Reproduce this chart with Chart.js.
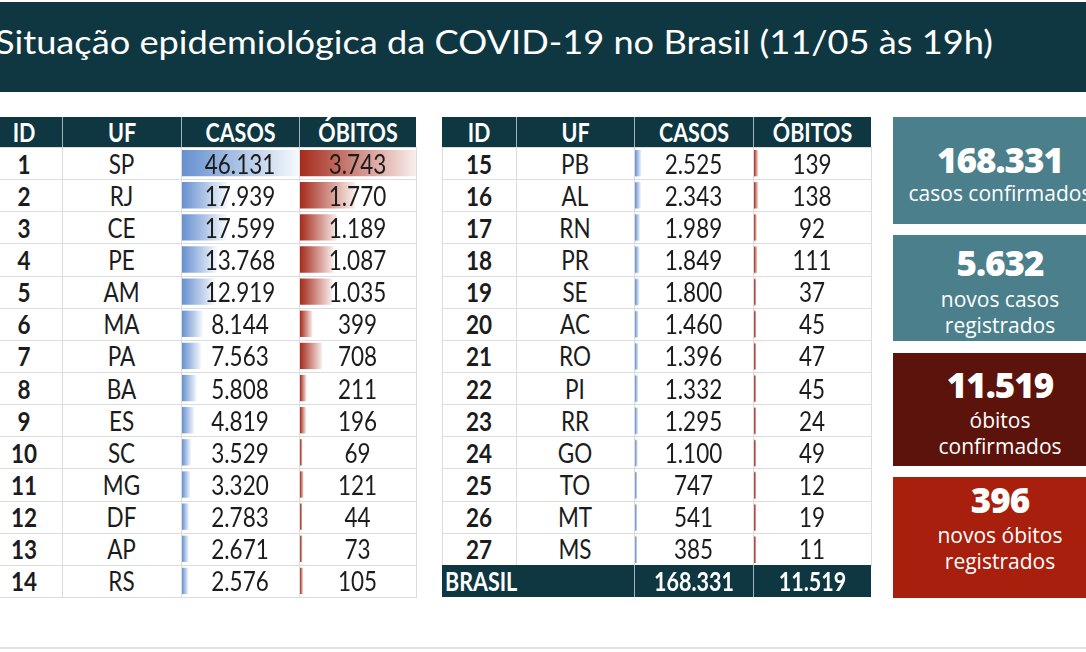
<!DOCTYPE html>
<html>
<head>
<meta charset="utf-8">
<title>Situação epidemiológica da COVID-19 no Brasil</title>
<script src="https://cdn.jsdelivr.net/npm/chart.js@4.4.0/dist/chart.umd.min.js"></script>
<style>
  body { margin:0; width:1086px; height:652px; overflow:hidden; background:#fff; position:relative; font-family:Lato, sans-serif; }
  .abs { position:absolute; box-sizing:border-box; }
  .cell { display:flex; align-items:center; justify-content:center; color:#1c1c1c; font-size:22.5px; }
  .cell span { display:inline-block; transform:scaleY(1.2); }
  .head { background:#0f3741; color:#fff; font-weight:bold; font-size:21.5px; }
  .bold { font-weight:bold; }
  .box { color:#fff; font-family:"Open Sans", sans-serif; text-align:center; }
  #title { left:0; top:2px; width:1086px; height:90px; background:#0f3741; }
  #titleText { position:absolute; left:-5px; top:19px; color:#fff; font-size:33px; white-space:nowrap; transform-origin:0 0; }
</style>
</head>
<body>
<div id="title" class="abs"><span id="titleText">Situação epidemiológica da COVID-19 no Brasil (11/05 às 19h)</span></div>
<div class="abs" style="left:0;top:647px;width:1086px;height:2px;background:#e2e2e2"></div>
<script>
// data
const headers = ["ID", "UF", "CASOS", "ÓBITOS"];
const ids1 = [1, 2, 3, 4, 5, 6, 7, 8, 9, 10, 11, 12, 13, 14];
const uf1 = ["SP","RJ","CE","PE","AM","MA","PA","BA","ES","SC","MG","DF","AP","RS"];
const casos1 = [46131, 17939, 17599, 13768, 12919, 8144, 7563, 5808, 4819, 3529, 3320, 2783, 2671, 2576];
const obitos1 = [3743, 1770, 1189, 1087, 1035, 399, 708, 211, 196, 69, 121, 44, 73, 105];
const ids2 = [15, 16, 17, 18, 19, 20, 21, 22, 23, 24, 25, 26, 27];
const uf2 = ["PB","AL","RN","PR","SE","AC","RO","PI","RR","GO","TO","MT","MS"];
const casos2 = [2525, 2343, 1989, 1849, 1800, 1460, 1396, 1332, 1295, 1100, 747, 541, 385];
const obitos2 = [139, 138, 92, 111, 37, 45, 47, 45, 24, 49, 12, 19, 11];
const totalLabel = "BRASIL";
const totalCasos = 168331;
const totalObitos = 11519;
const summaryValues = [168331, 5632, 11519, 396];
const summaryLabels = [["casos confirmados"], ["novos casos", "registrados"], ["óbitos", "confirmados"], ["novos óbitos", "registrados"]];

const fmt = v => v.toLocaleString("de-DE");

// layout
const headTop = 117, headH = 30, rowH = 32.14;
const bodyTop = headTop + headH;
const tables = [
  { cols: [-14, 62, 181, 299, 416], ids: ids1, uf: uf1, casos: casos1, obitos: obitos1, total: false },
  { cols: [442, 516, 634, 753, 871], ids: ids2, uf: uf2, casos: casos2, obitos: obitos2, total: true }
];
const maxCasos = Math.max(...casos1, ...casos2);
const maxObitos = Math.max(...obitos1, ...obitos2);

function div(cls, x, y, w, h, style, html) {
  const d = document.createElement("div");
  d.className = "abs " + cls;
  d.style.cssText = `left:${x}px;top:${y}px;width:${w}px;height:${h}px;` + (style || "");
  if (html !== undefined) d.innerHTML = "<span>" + html + "</span>";
  document.body.appendChild(d);
  return d;
}

function grad(color, end) {
  return ctx => {
    if (ctx.type !== "data") return color;
    const c = ctx.chart;
    if (!c.chartArea) return color;
    const x0 = c.scales.x.getPixelForValue(0);
    const x1 = Math.max(c.scales.x.getPixelForValue(ctx.raw), x0 + 3);
    const g = c.ctx.createLinearGradient(x0, 0, x1, 0);
    g.addColorStop(0, color);
    g.addColorStop(1, end);
    return g;
  };
}

function barChart(x, y, w, h, labels, values, max, color, end) {
  const box = div("", x, y, w, h, "z-index:2");
  const cv = document.createElement("canvas");
  box.appendChild(cv);
  new Chart(cv, {
    type: "bar",
    data: {
      labels: labels,
      datasets: [{
        data: values,
        backgroundColor: grad(color, end),
        borderWidth: 0,
        barPercentage: 0.82,
        categoryPercentage: 1,
        minBarLength: 2
      }]
    },
    options: {
      indexAxis: "y",
      responsive: true,
      maintainAspectRatio: false,
      animation: false,
      events: [],
      layout: { padding: 0 },
      plugins: { legend: { display: false }, tooltip: { enabled: false } },
      scales: {
        x: { display: false, min: 0, max: max },
        y: { display: false }
      }
    }
  });
}

tables.forEach(t => {
  const c = t.cols;
  const n = t.ids.length;
  // header
  for (let j = 0; j < 4; j++) {
    div("cell head", c[j], headTop, c[j + 1] - c[j], headH,
      j > 0 ? "border-left:1px solid #9fb3b8;" : "", headers[j]);
  }
  // body grid
  for (let i = 0; i < n; i++) {
    const y = bodyTop + i * rowH;
    for (let j = 0; j < 4; j++) {
      div("", c[j], y, c[j + 1] - c[j] + 1, rowH + 1, "border:1px solid #dcdcdc;background:#fff;z-index:1");
    }
  }
  // data bars
  barChart(c[2] + 1, bodyTop, c[3] - c[2] - 1, n * rowH, t.uf, t.casos, maxCasos, "#6690cf", "#f6f9fd");
  barChart(c[3] + 1, bodyTop, c[4] - c[3] - 1, n * rowH, t.uf, t.obitos, maxObitos, "#a52b1c", "#f9eeec");
  // text
  for (let i = 0; i < n; i++) {
    const y = bodyTop + i * rowH;
    div("cell bold", c[0], y, c[1] - c[0], rowH, "z-index:3", t.ids[i]);
    div("cell", c[1], y, c[2] - c[1], rowH, "z-index:3", t.uf[i]);
    div("cell", c[2], y, c[3] - c[2], rowH, "z-index:3", fmt(t.casos[i]));
    div("cell", c[3], y, c[4] - c[3], rowH, "z-index:3", fmt(t.obitos[i]));
  }
  if (t.total) {
    const y = bodyTop + n * rowH;
    div("cell head", c[0], y, c[2] - c[0], rowH, "justify-content:flex-start;padding-left:3px;z-index:3", totalLabel);
    div("cell head", c[2], y, c[3] - c[2], rowH, "border-left:1px solid #9fb3b8;z-index:3", fmt(totalCasos));
    div("cell head", c[3], y, c[4] - c[3], rowH, "border-left:1px solid #9fb3b8;z-index:3", fmt(totalObitos));
  }
});

// summary boxes
const boxes = [
  { y: 117, h: 107, bg: "#4b7f8c", num: 160, lines: [193] },
  { y: 235, h: 106, bg: "#4b7f8c", num: 263, lines: [299, 325] },
  { y: 353, h: 113, bg: "#5b130b", num: 385, lines: [420, 446] },
  { y: 477, h: 121, bg: "#a81f0d", num: 500, lines: [535, 561] }
];
const boxX = 893, boxW = 214;
boxes.forEach((b, k) => {
  div("box", boxX, b.y, boxW, b.h, "background:" + b.bg);
  const nEl = div("box", boxX, b.num - 22, boxW, 44, "font-size:35px;font-weight:800;line-height:44px", fmt(summaryValues[k]));
  nEl.firstChild.style.letterSpacing = "-1px";
  summaryLabels[k].forEach((s, i) => {
    div("box", boxX - 20, b.lines[i] - 14, boxW + 40, 28, "font-size:21px;line-height:28px;", s);
  });
});

// fit title width
const tt = document.getElementById("titleText");
const tw = tt.getBoundingClientRect().width;
tt.style.transform = `scaleX(${998 / tw})`;
</script>
</body>
</html>
